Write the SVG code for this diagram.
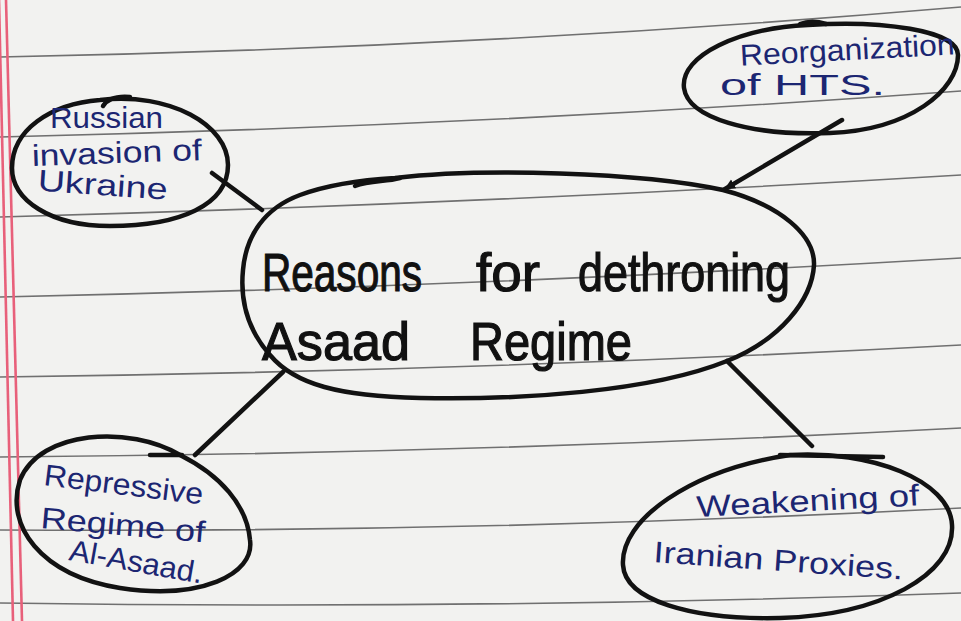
<svg xmlns="http://www.w3.org/2000/svg" width="961" height="621" viewBox="0 0 961 621">
<style>
.paper{fill:#f2f2f0}
.rule{fill:none;stroke:#707070;stroke-width:1.6}
.margin{fill:none;stroke:#e8607a;stroke-width:2.6}
.shape{fill:none;stroke:#121212;stroke-width:4.5;stroke-linecap:round;stroke-linejoin:round}
.edge{fill:none;stroke:#121212;stroke-width:4.5;stroke-linecap:round}
.tmain{font-family:"Liberation Sans",Arial,sans-serif;font-size:54px;fill:#111111;stroke:#111111;stroke-width:1.2}
.tnode{font-family:"Liberation Sans",Arial,sans-serif;font-size:30px;fill:#1c2672}
</style>
<defs>
<marker id="arrow" markerWidth="14" markerHeight="12" refX="10" refY="6" orient="auto" markerUnits="userSpaceOnUse">
<path d="M0,1 L11,6 L0,11 Z" fill="#121212"/>
</marker>
</defs>
<rect class="paper" x="0" y="0" width="961" height="621"/>
<g id="paper-lines">
<path class="rule" d="M0,57 Q479.5,48 961,7"/>
<path class="rule" d="M0,137 Q479.5,126 961,91"/>
<path class="rule" d="M0,217 Q479.5,204 961,175"/>
<path class="rule" d="M0,297 Q479.5,286.5 961,258"/>
<path class="rule" d="M0,377 Q479.5,371 961,345"/>
<path class="rule" d="M0,457 Q479.5,453.5 961,428"/>
<path class="rule" d="M0,530 Q479.5,533 961,508"/>
<path class="rule" d="M0,603 Q479.5,610 961,593"/>
<path class="margin" d="M-1,0 L13,621"/>
<path class="margin" d="M6,0 L22,621"/>
</g>
<g id="connectors">
<path class="edge" d="M212,173 L262,210"/>
<path class="edge" d="M842,120 L725,189" marker-end="url(#arrow)"/>
<path class="edge" d="M283,372 L195,455"/>
<path class="edge" d="M727,361 L812,446"/>
</g>
<g id="center">
<path class="shape" d="M395,178 C480,168 640,172 723,190 C780,205 815,235 814,265 C812,300 780,340 727,361 C650,392 520,400 420,398 C340,396 295,385 270,355 C248,330 240,300 243,270 C246,235 265,208 300,195 C330,184 360,180 395,178 Z"/>
<path class="shape" d="M355,186 C370,180 385,182 400,178"/>
<text class="tmain" x="262" y="291" textLength="160" lengthAdjust="spacingAndGlyphs">Reasons</text>
<text class="tmain" x="476" y="291" textLength="64" lengthAdjust="spacingAndGlyphs">for</text>
<text class="tmain" x="578" y="291" textLength="212" lengthAdjust="spacingAndGlyphs">dethroning</text>
<text class="tmain" x="262" y="360" textLength="148" lengthAdjust="spacingAndGlyphs">Asaad</text>
<text class="tmain" x="470" y="360" textLength="162" lengthAdjust="spacingAndGlyphs">Regime</text>
</g>
<g id="node-russia">
<path class="shape" d="M100,100 C170,92 228,125 228,165 C228,205 180,226 110,226 C50,226 12,200 12,168 C12,130 50,104 100,100 Z"/>
<path class="shape" d="M103,106 C108,98 118,96 130,97"/>
<text class="tnode" x="50" y="128" textLength="113" lengthAdjust="spacingAndGlyphs">Russian</text>
<text class="tnode" x="32" y="163" textLength="170" lengthAdjust="spacingAndGlyphs" transform="rotate(-2 117 160)">invasion of</text>
<text class="tnode" x="37" y="195" textLength="130" lengthAdjust="spacingAndGlyphs" transform="rotate(4 100 195)">Ukraine</text>
</g>
<g id="node-hts">
<path class="shape" d="M808,25 C880,20 958,30 958,55 C958,90 910,130 830,133 C750,136 688,118 684,88 C680,55 740,28 808,25 Z"/>
<path class="shape" d="M800,24 C810,20 820,22 826,24"/>
<text class="tnode" x="740" y="60" textLength="215" lengthAdjust="spacingAndGlyphs" transform="rotate(-3 848 55)">Reorganization</text>
<text class="tnode" x="720" y="95" textLength="165" lengthAdjust="spacingAndGlyphs">of HTS.</text>
</g>
<g id="node-repressive">
<path class="shape" d="M180,455 C130,425 40,430 20,480 C5,525 40,575 120,588 C200,600 255,575 250,540 C247,505 220,475 180,455 Z"/>
<path class="shape" d="M150,455 L182,455"/>
<text class="tnode" x="43" y="485" textLength="160" lengthAdjust="spacingAndGlyphs" transform="rotate(7 43 485)">Repressive</text>
<text class="tnode" x="40" y="528" textLength="165" lengthAdjust="spacingAndGlyphs" transform="rotate(5 40 528)">Regime of</text>
<text class="tnode" x="68" y="560" textLength="135" lengthAdjust="spacingAndGlyphs" transform="rotate(10 68 560)">Al-Asaad.</text>
</g>
<g id="node-iran">
<path class="shape" d="M790,455 C870,450 950,480 952,525 C955,575 880,615 780,618 C690,620 625,600 623,565 C620,520 690,470 790,455 Z"/>
<path class="shape" d="M780,455 L883,457"/>
<text class="tnode" x="697" y="517" textLength="223" lengthAdjust="spacingAndGlyphs" transform="rotate(-3 697 517)">Weakening of</text>
<text class="tnode" x="653" y="562" textLength="250" lengthAdjust="spacingAndGlyphs" transform="rotate(4 653 562)">Iranian Proxies.</text>
</g>
</svg>
